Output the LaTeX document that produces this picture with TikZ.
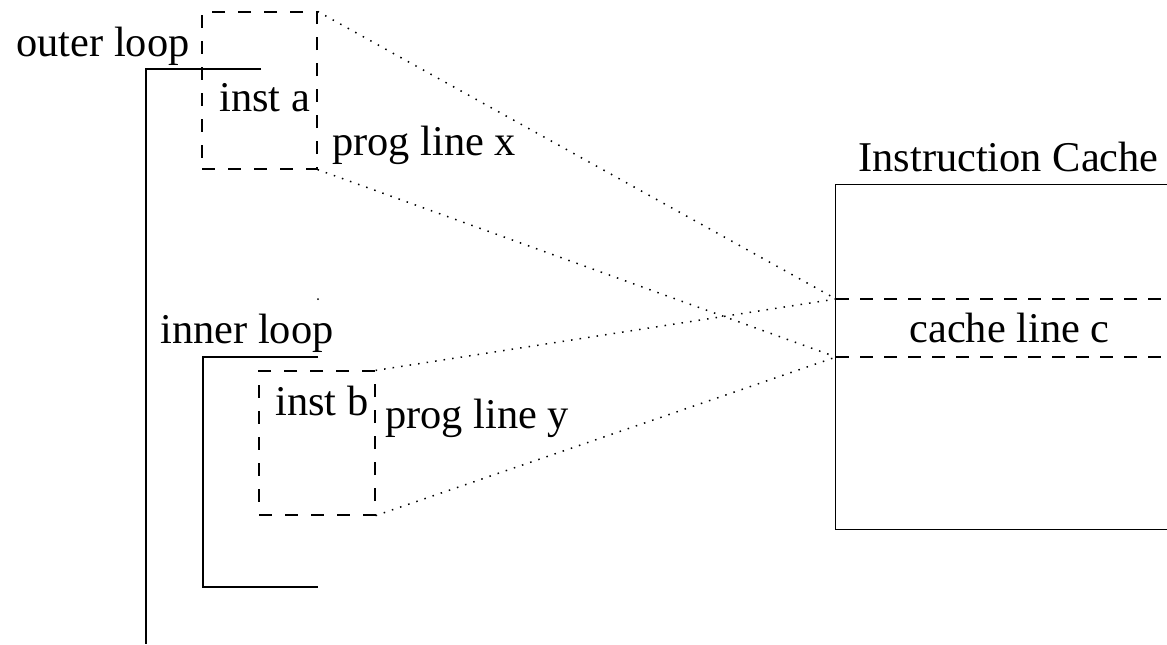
\documentclass[tikz,border=0pt]{standalone}
\usepackage{fontspec}
\setmainfont{Liberation Serif}
\begin{document}
\begin{tikzpicture}[x=0.5pt,y=-0.5pt,
  bracket/.style={line width=0.75pt},
  dbox/.style={draw, rectangle, inner sep=0pt, dash pattern=on 6.5pt off 6.5pt, line width=0.6pt},
  dline/.style={dash pattern=on 6.5pt off 5.5pt, line width=0.6pt},
  link/.style={dash pattern=on 0.75pt off 3.55pt, line width=0.75pt},
  lbl/.style={anchor=base west, inner sep=0pt, font=\fontsize{21.2}{25}\selectfont}]
\useasboundingbox (0,0) rectangle (1167,644);

% instruction boxes
\node[dbox, minimum width=57.5pt, minimum height=78.5pt] (a) at (259.5,90.5) {};
\node[dbox, minimum width=58pt, minimum height=72pt] (b) at (317,443) {};

% cache
\node[inner sep=0pt, minimum width=166pt, minimum height=172pt] (cache) at (1002,357) {};
\coordinate (c1) at (836,299);
\coordinate (c2) at (836,357);
\coordinate (c1r) at (1167,299);
\coordinate (c2r) at (1167,357);
\draw[bracket] (cache.north east) -- (cache.north west) -- (cache.south west) -- (cache.south east);
\draw[dline] (c1) -- (c1r);
\draw[dline] (c2) -- (c2r);

% loop brackets
\draw[bracket] (261,69) -- (146,69) -- (146,644);
\draw[bracket] (318,357) -- (203,357) -- (203,587) -- (318,587);

% labels
\node[lbl] (outer) at (16,56) {outer loop};
\node[lbl] (insta) at (219,111) {inst a};
\node[lbl] (progx) at (332,155) {prog line x};
\node[lbl] (inner) at (160,343) {inner loop};
\node[lbl] (instb) at (275,415) {inst b};
\node[lbl] (progy) at (385,428) {prog line y};
\node[lbl] (ic) at (858,171) {Instruction Cache};
\node[lbl] (cl) at (909,342) {cache line c};

% mapping lines
\draw[link] (a.north east) -- (c1);
\draw[link] (a.south east) -- (c2);
\draw[link] (b.north east) -- (c1);
\draw[link] (b.south east) -- (c2);

% stray dot
\fill (318,299) circle (0.5pt);
\end{tikzpicture}
\end{document}
